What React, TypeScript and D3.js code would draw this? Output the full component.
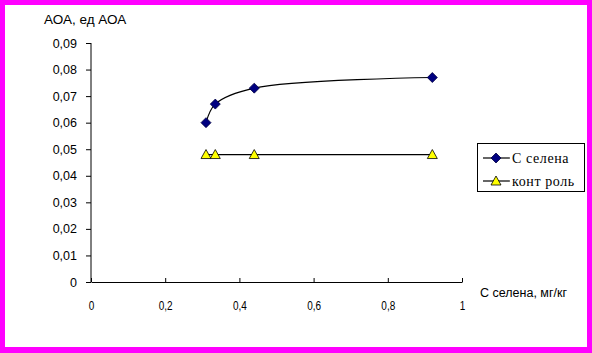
import React, { useEffect, useRef } from 'react';
import * as d3 from 'd3';

// concentration of selenium, mg/kg
const seleniumDose = [0.31, 0.335, 0.44, 0.92];
// AOA values for each dose
const seleniumAOA = [0.06, 0.067, 0.073, 0.077];
const controlAOA = [0.048, 0.048, 0.048, 0.048];

const yTicks = [0, 0.01, 0.02, 0.03, 0.04, 0.05, 0.06, 0.07, 0.08, 0.09];
const xTicks = [0, 0.2, 0.4, 0.6, 0.8, 1];
const seriesNames = ['С селена', 'конт роль'];

const fmt = (v: number) => (v === 0 || v === 1 ? String(v) : String(v).replace('.', ','));

const App = () => {
  const svgRef = useRef<SVGSVGElement>(null);

  useEffect(() => {
    const svg = d3.select(svgRef.current);
    svg.selectAll('*').remove();

    // magenta frame
    svg.append('rect').attr('x', 0).attr('y', 0).attr('width', 592).attr('height', 353).attr('fill', '#ff00ff');
    svg.append('rect').attr('x', 5).attr('y', 5).attr('width', 582).attr('height', 342).attr('fill', '#fff');

    const x = d3.scaleLinear().domain([0, 1]).range([91, 462]);
    const y = d3.scaleLinear().domain([0, 0.09]).range([282, 43]);

    const font = 'Liberation Sans, Arial, sans-serif';

    // y axis
    const yAxis = svg.append('g')
      .attr('transform', `translate(${x(0)},0)`)
      .call(d3.axisLeft(y).tickValues(yTicks).tickSize(5).tickPadding(9).tickFormat((d) => fmt(+d)));
    yAxis.select('.domain').attr('stroke', '#000').attr('d', `M0,${y(0.09)}V${y(0)}`);
    yAxis.selectAll('line').attr('stroke', '#000');
    yAxis.selectAll('text').attr('font-family', font).attr('font-size', 12.5).attr('fill', '#000');

    // x axis (ticks point inward)
    const xAxis = svg.append('g')
      .attr('transform', `translate(0,${y(0)})`)
      .call(d3.axisBottom(x).tickValues(xTicks).tickSizeInner(-4).tickSizeOuter(0).tickPadding(19).tickFormat((d) => fmt(+d)));
    xAxis.select('.domain').attr('stroke', '#000');
    xAxis.selectAll('line').attr('stroke', '#000');
    xAxis.selectAll('text').attr('font-family', font).attr('font-size', 12.5).attr('fill', '#000')
      .attr('transform', 'scale(0.8,1)');

    svg.append('text').attr('x', 44).attr('y', 24)
      .attr('font-family', font).attr('font-size', 13.5).text('АОА, ед АОА');
    svg.append('text').attr('x', 480).attr('y', 297)
      .attr('font-family', font).attr('font-size', 12.5).text('С селена, мг/кг');

    const pts1 = seleniumDose.map((d, i) => [x(d), y(seleniumAOA[i])] as [number, number]);
    const pts2 = seleniumDose.map((d, i) => [x(d), y(controlAOA[i])] as [number, number]);

    svg.append('path')
      .attr('d', d3.line().curve(d3.curveCatmullRom.alpha(0.5))(pts1))
      .attr('fill', 'none').attr('stroke', '#000').attr('stroke-width', 1.2);
    svg.append('path')
      .attr('d', d3.line()(pts2))
      .attr('fill', 'none').attr('stroke', '#000').attr('stroke-width', 1.2);

    const diamond = (cx: number, cy: number) => `M${cx},${cy - 5}L${cx + 5},${cy}L${cx},${cy + 5}L${cx - 5},${cy}Z`;
    const triangle = (cx: number, cy: number) => `M${cx},${cy - 5}L${cx + 5},${cy + 4}L${cx - 5},${cy + 4}Z`;

    svg.append('g').selectAll('path').data(pts1).enter().append('path')
      .attr('d', (p) => diamond(p[0], p[1]))
      .attr('fill', '#000080').attr('stroke', '#000040').attr('stroke-width', 0.8);
    svg.append('g').selectAll('path').data(pts2).enter().append('path')
      .attr('d', (p) => triangle(p[0], p[1]))
      .attr('fill', '#ffff00').attr('stroke', '#000').attr('stroke-width', 0.8);

    // legend
    const lg = svg.append('g');
    lg.append('rect').attr('x', 477.5).attr('y', 143.5).attr('width', 107).attr('height', 48)
      .attr('fill', '#fff').attr('stroke', '#000');
    seriesNames.forEach((name, i) => {
      const ly = 158 + i * 23;
      lg.append('line').attr('x1', 483).attr('x2', 510).attr('y1', ly).attr('y2', ly)
        .attr('stroke', '#000').attr('stroke-width', 1.2);
      if (i === 0) {
        lg.append('path').attr('d', diamond(496, ly)).attr('fill', '#000080').attr('stroke', '#000040').attr('stroke-width', 0.8);
      } else {
        lg.append('path').attr('d', triangle(496, ly)).attr('fill', '#ffff00').attr('stroke', '#000').attr('stroke-width', 0.8);
      }
      lg.append('text').attr('x', 512).attr('y', ly + 5)
        .attr('font-family', 'Liberation Serif, Times New Roman, serif').attr('font-size', 14)
        .attr('letter-spacing', 0.6).text(name);
    });
  }, []);

  return <svg ref={svgRef} width={592} height={353} style={{ position: 'absolute', left: 0, top: 0 }}></svg>;
};

export default App;
